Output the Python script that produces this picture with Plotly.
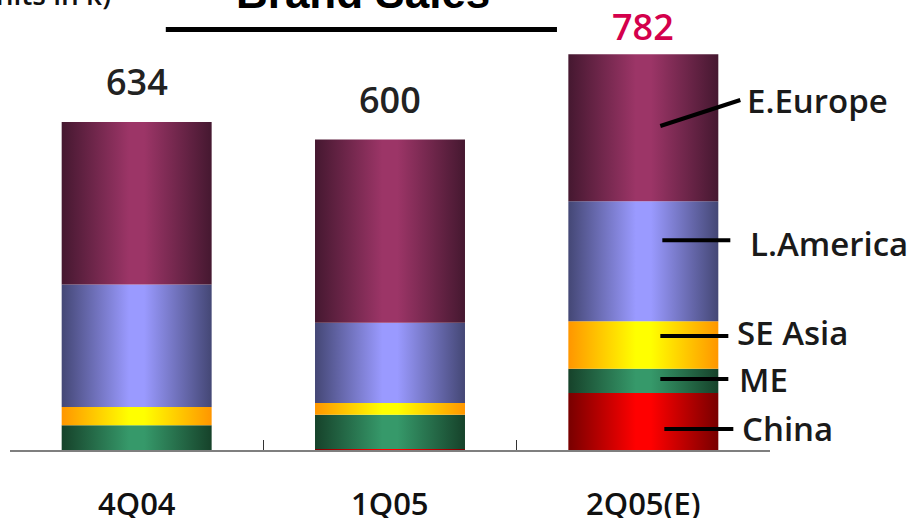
import plotly.graph_objects as go

# ---------------- data ----------------
categories = ["4Q04", "1Q05", "2Q05(E)"]
regions = ["China", "ME", "SE Asia", "L.America", "E.Europe"]
china = [0, 2, 110]
me = [48, 66, 47]
se_asia = [35, 23, 92]
l_america = [237, 155, 232]
e_europe = [314, 354, 284]
total_labels = ["634", "600", "782"]

series = [china, me, se_asia, l_america, e_europe]

# ---------------- styles ----------------
grad = {
    "China": ("#780000", "#ff0000"),
    "ME": ("#16422a", "#36996a"),
    "SE Asia": ("#ff9600", "#ffff00"),
    "L.America": ("#444775", "#9a9aff"),
    "E.Europe": ("#451830", "#9c3567"),
}
total_colors = ["#222222", "#222222", "#d4004c"]
total_yshift = [40, 40, 28]
# right side label style: (line x0, x1, y0, y1 pixel offsets, text xshift, text yshift)
label_style = {
    "China": (21, 90, -7.5, -7.5, 97, -6.5),
    "ME": (17, 85, 2, 2, 94, 1),
    "SE Asia": (17, 85, 9, 9, 92, 12),
    "L.America": (19, 87, 21, 21, 105, 18),
    "E.Europe": (17, 97, 1.7, 27.7, 102, 26.7),
}
FONT = "Open Sans"
hw = 0.296  # half bar width (category units)

fig = go.Figure()

for i in range(len(categories)):
    base = 0
    for name, vals in zip(regions, series):
        v = vals[i]
        if v > 0:
            dark, light = grad[name]
            fig.add_trace(go.Scatter(
                x=[i - hw, i + hw, i + hw, i - hw, i - hw],
                y=[base, base, base + v, base + v, base],
                mode="lines", fill="toself",
                line=dict(width=0),
                fillgradient=dict(type="horizontal",
                                  colorscale=[[0, dark], [0.45, light], [0.55, light], [1, dark]]),
                hoverinfo="skip", showlegend=False, name=name))
        base += v

totals = [sum(s[i] for s in series) for i in range(len(categories))]

annotations = []
shapes = []

# totals above bars
for i, (t, lab) in enumerate(zip(totals, total_labels)):
    annotations.append(dict(x=i, y=t, xref="x", yref="y", text=lab, showarrow=False,
                            yanchor="middle", yshift=total_yshift[i],
                            font=dict(family=FONT, size=36, color=total_colors[i], weight=600)))

# category labels
for i, c in enumerate(categories):
    annotations.append(dict(x=i, y=-0.118, xref="x", yref="paper", text=c, showarrow=False,
                            yanchor="middle", height=30,
                            font=dict(family=FONT, size=31, color="#111111", weight=600)))

# region labels + leader lines on last bar
last = len(categories) - 1
base = 0
for name, vals in zip(regions, series):
    v = vals[last]
    mid = base + v / 2
    base += v
    lx0, lx1, ly0, ly1, tx, ty = label_style[name]
    shapes.append(dict(type="line", xref="x", yref="y",
                       xsizemode="pixel", xanchor=last, x0=lx0, x1=lx1,
                       ysizemode="pixel", yanchor=mid, y0=ly0, y1=ly1,
                       line=dict(color="black", width=4)))
    annotations.append(dict(x=last, y=mid, xref="x", yref="y", text=name, showarrow=False,
                            xanchor="left", yanchor="middle", xshift=tx, yshift=ty,
                            font=dict(family=FONT, size=33, color="#1a1a1a", weight=600)))

# title and units (cut off at top like the reference)
annotations.append(dict(x=0.465, y=1.016, xref="paper", yref="paper", text="Brand Sales",
                        showarrow=False, yanchor="middle",
                        font=dict(family="Liberation Sans", size=44, color="black", weight="bold")))
annotations.append(dict(x=0.1355, y=1.013, xref="paper", yref="paper", text="(units in k)",
                        showarrow=False, xanchor="right", yanchor="middle",
                        font=dict(family=FONT, size=28, color="#111111", weight=600)))
shapes.append(dict(type="line", xref="paper", yref="paper", x0=0.205, x1=0.7197,
                   y0=0.9344, y1=0.9344, line=dict(color="black", width=5)))

fig.update_layout(
    width=916, height=520,
    margin=dict(l=10, r=146, t=0, b=70),
    paper_bgcolor="white", plot_bgcolor="white",
    showlegend=False,
    xaxis=dict(range=[-0.5, 2.5], showgrid=False, zeroline=False,
               showline=True, linecolor="#7f7f7f", linewidth=2,
               tickvals=[-0.5, 0.5, 1.5, 2.5], ticks="inside", ticklen=10,
               tickcolor="#333333", tickwidth=1, showticklabels=False, fixedrange=True),
    yaxis=dict(range=[0, 869.8], visible=False, fixedrange=True),
    annotations=annotations,
    shapes=shapes,
)

fig.write_html("out.html")
